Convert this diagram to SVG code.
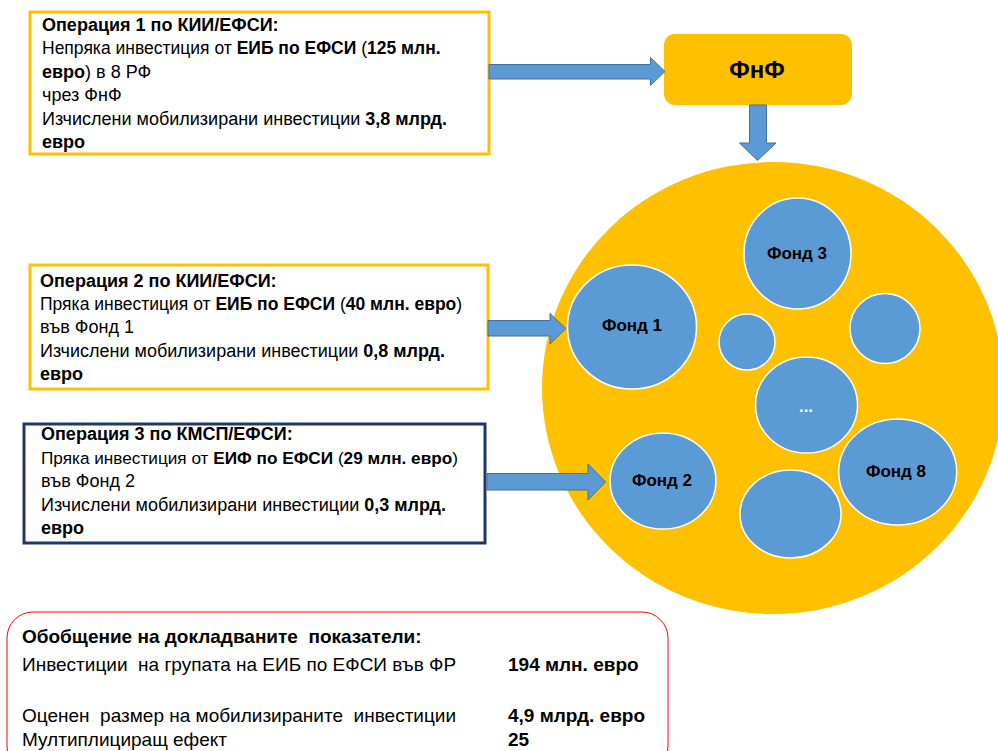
<svg xmlns="http://www.w3.org/2000/svg" width="998" height="751" viewBox="0 0 998 751">
<style>
text{font-family:"Liberation Sans",Arial,sans-serif;font-size:18px;fill:#000;white-space:pre}
.b{font-weight:bold}
.box{fill:#fff;stroke-width:3}
.y{stroke:#FFC000}
.n{stroke:#1F3864}
.fund{fill:#5B9BD5;stroke:#fff;stroke-width:1.5}
.fl{font-weight:bold;font-size:17px;text-anchor:middle}
.arrow{fill:#5B9BD5;stroke:#41719C;stroke-width:1}
.s{font-size:19px}
</style>
<rect width="998" height="751" fill="#fff"/>

<g id="pool">
<ellipse cx="773" cy="388" rx="231" ry="226" fill="#FFC000"/>
</g>
<g id="fund3"><ellipse class="fund" cx="797.5" cy="253.5" rx="53.5" ry="55.5"/><text class="fl" x="797" y="259">Фонд 3</text></g>
<g id="fund1"><ellipse class="fund" cx="632" cy="327" rx="64.5" ry="62"/><text class="fl" x="632" y="331">Фонд 1</text></g>
<g id="fundSmall"><ellipse class="fund" cx="747" cy="342" rx="28" ry="28"/></g>
<g id="fundRight"><ellipse class="fund" cx="885" cy="328.5" rx="35" ry="35"/></g>
<g id="fundDots"><ellipse class="fund" cx="806.5" cy="405" rx="51" ry="48"/><text class="fl" x="806" y="412" style="fill:#fff">...</text></g>
<g id="fund8"><ellipse class="fund" cx="897.7" cy="472" rx="59" ry="53"/><text class="fl" x="896" y="477">Фонд 8</text></g>
<g id="fund2"><ellipse class="fund" cx="663" cy="481" rx="53" ry="48"/><text class="fl" x="662" y="486">Фонд 2</text></g>
<g id="fundBottom"><ellipse class="fund" cx="790.5" cy="514" rx="50.5" ry="44"/></g>

<g id="fnf">
<rect x="664" y="34" width="188" height="71" rx="11" fill="#FFC000"/>
<text x="757" y="78" style="font-weight:bold;font-size:24px;text-anchor:middle">ФнФ</text>
</g>

<g id="op1">
<rect class="box y" x="30" y="12" width="459" height="142"/>
<text x="42" y="31" class="b">Операция 1 по КИИ/ЕФСИ:</text>
<text x="42" y="54" style="font-size:17.5px">Непряка инвестиция от <tspan class="b">ЕИБ по ЕФСИ</tspan> (<tspan class="b">125 млн.</tspan></text>
<text x="42" y="78"><tspan class="b">евро</tspan>) в 8 РФ</text>
<text x="42" y="101">чрез ФнФ</text>
<text x="42" y="125">Изчислени мобилизирани инвестиции <tspan class="b">3,8 млрд.</tspan></text>
<text x="42" y="148" class="b">евро</text>
</g>

<g id="op2">
<rect class="box y" x="30" y="265" width="458" height="124"/>
<text x="40" y="287" class="b">Операция 2 по КИИ/ЕФСИ:</text>
<text x="40" y="310" style="font-size:17.5px">Пряка инвестиция от <tspan class="b">ЕИБ по ЕФСИ</tspan> (<tspan class="b">40 млн. евро</tspan>)</text>
<text x="40" y="333">във Фонд 1</text>
<text x="40" y="357">Изчислени мобилизирани инвестиции <tspan class="b">0,8 млрд.</tspan></text>
<text x="40" y="380" class="b">евро</text>
</g>

<g id="op3">
<rect class="box n" x="24" y="424" width="461" height="119"/>
<text x="41" y="440" class="b">Операция 3 по КМСП/ЕФСИ:</text>
<text x="41" y="464" style="font-size:17.2px">Пряка инвестиция от <tspan class="b">ЕИФ по ЕФСИ</tspan> (<tspan class="b">29 млн. евро</tspan>)</text>
<text x="41" y="487">във Фонд 2</text>
<text x="41" y="511">Изчислени мобилизирани инвестиции <tspan class="b">0,3 млрд.</tspan></text>
<text x="41" y="534" class="b">евро</text>
</g>

<g id="summary">
<rect x="7" y="612" width="661" height="160" rx="26" fill="#fff" stroke="#FF0000" stroke-width="1"/>
<text x="22" y="643" class="b s">Обобщение на докладваните  показатели:</text>
<text x="22" y="671" class="s">Инвестиции  на групата на ЕИБ по ЕФСИ във ФР</text>
<text x="508" y="671" class="b s">194 млн. евро</text>
<text x="22" y="722" class="s">Оценен  размер на мобилизираните  инвестиции</text>
<text x="508" y="722" class="b s">4,9 млрд. евро</text>
<text x="22" y="746" class="s">Мултиплициращ ефект</text>
<text x="508" y="746" class="b s">25</text>
</g>

<g id="connectors">
<path class="arrow" d="M489,64.5 H650.5 V57.5 L665,71.5 L650.5,85.5 V79 H489 Z"/>
<path class="arrow" d="M749.5,105 V143 H739.5 L757.5,160.5 L776,143 H766.5 V105 Z"/>
<path class="arrow" d="M488,320.5 H550 V313.5 L566,328.5 L550,344 V336 H488 Z"/>
<path class="arrow" d="M487,473.5 H588 V464 L605.5,482 L588,500 V490 H487 Z"/>
</g>
</svg>
